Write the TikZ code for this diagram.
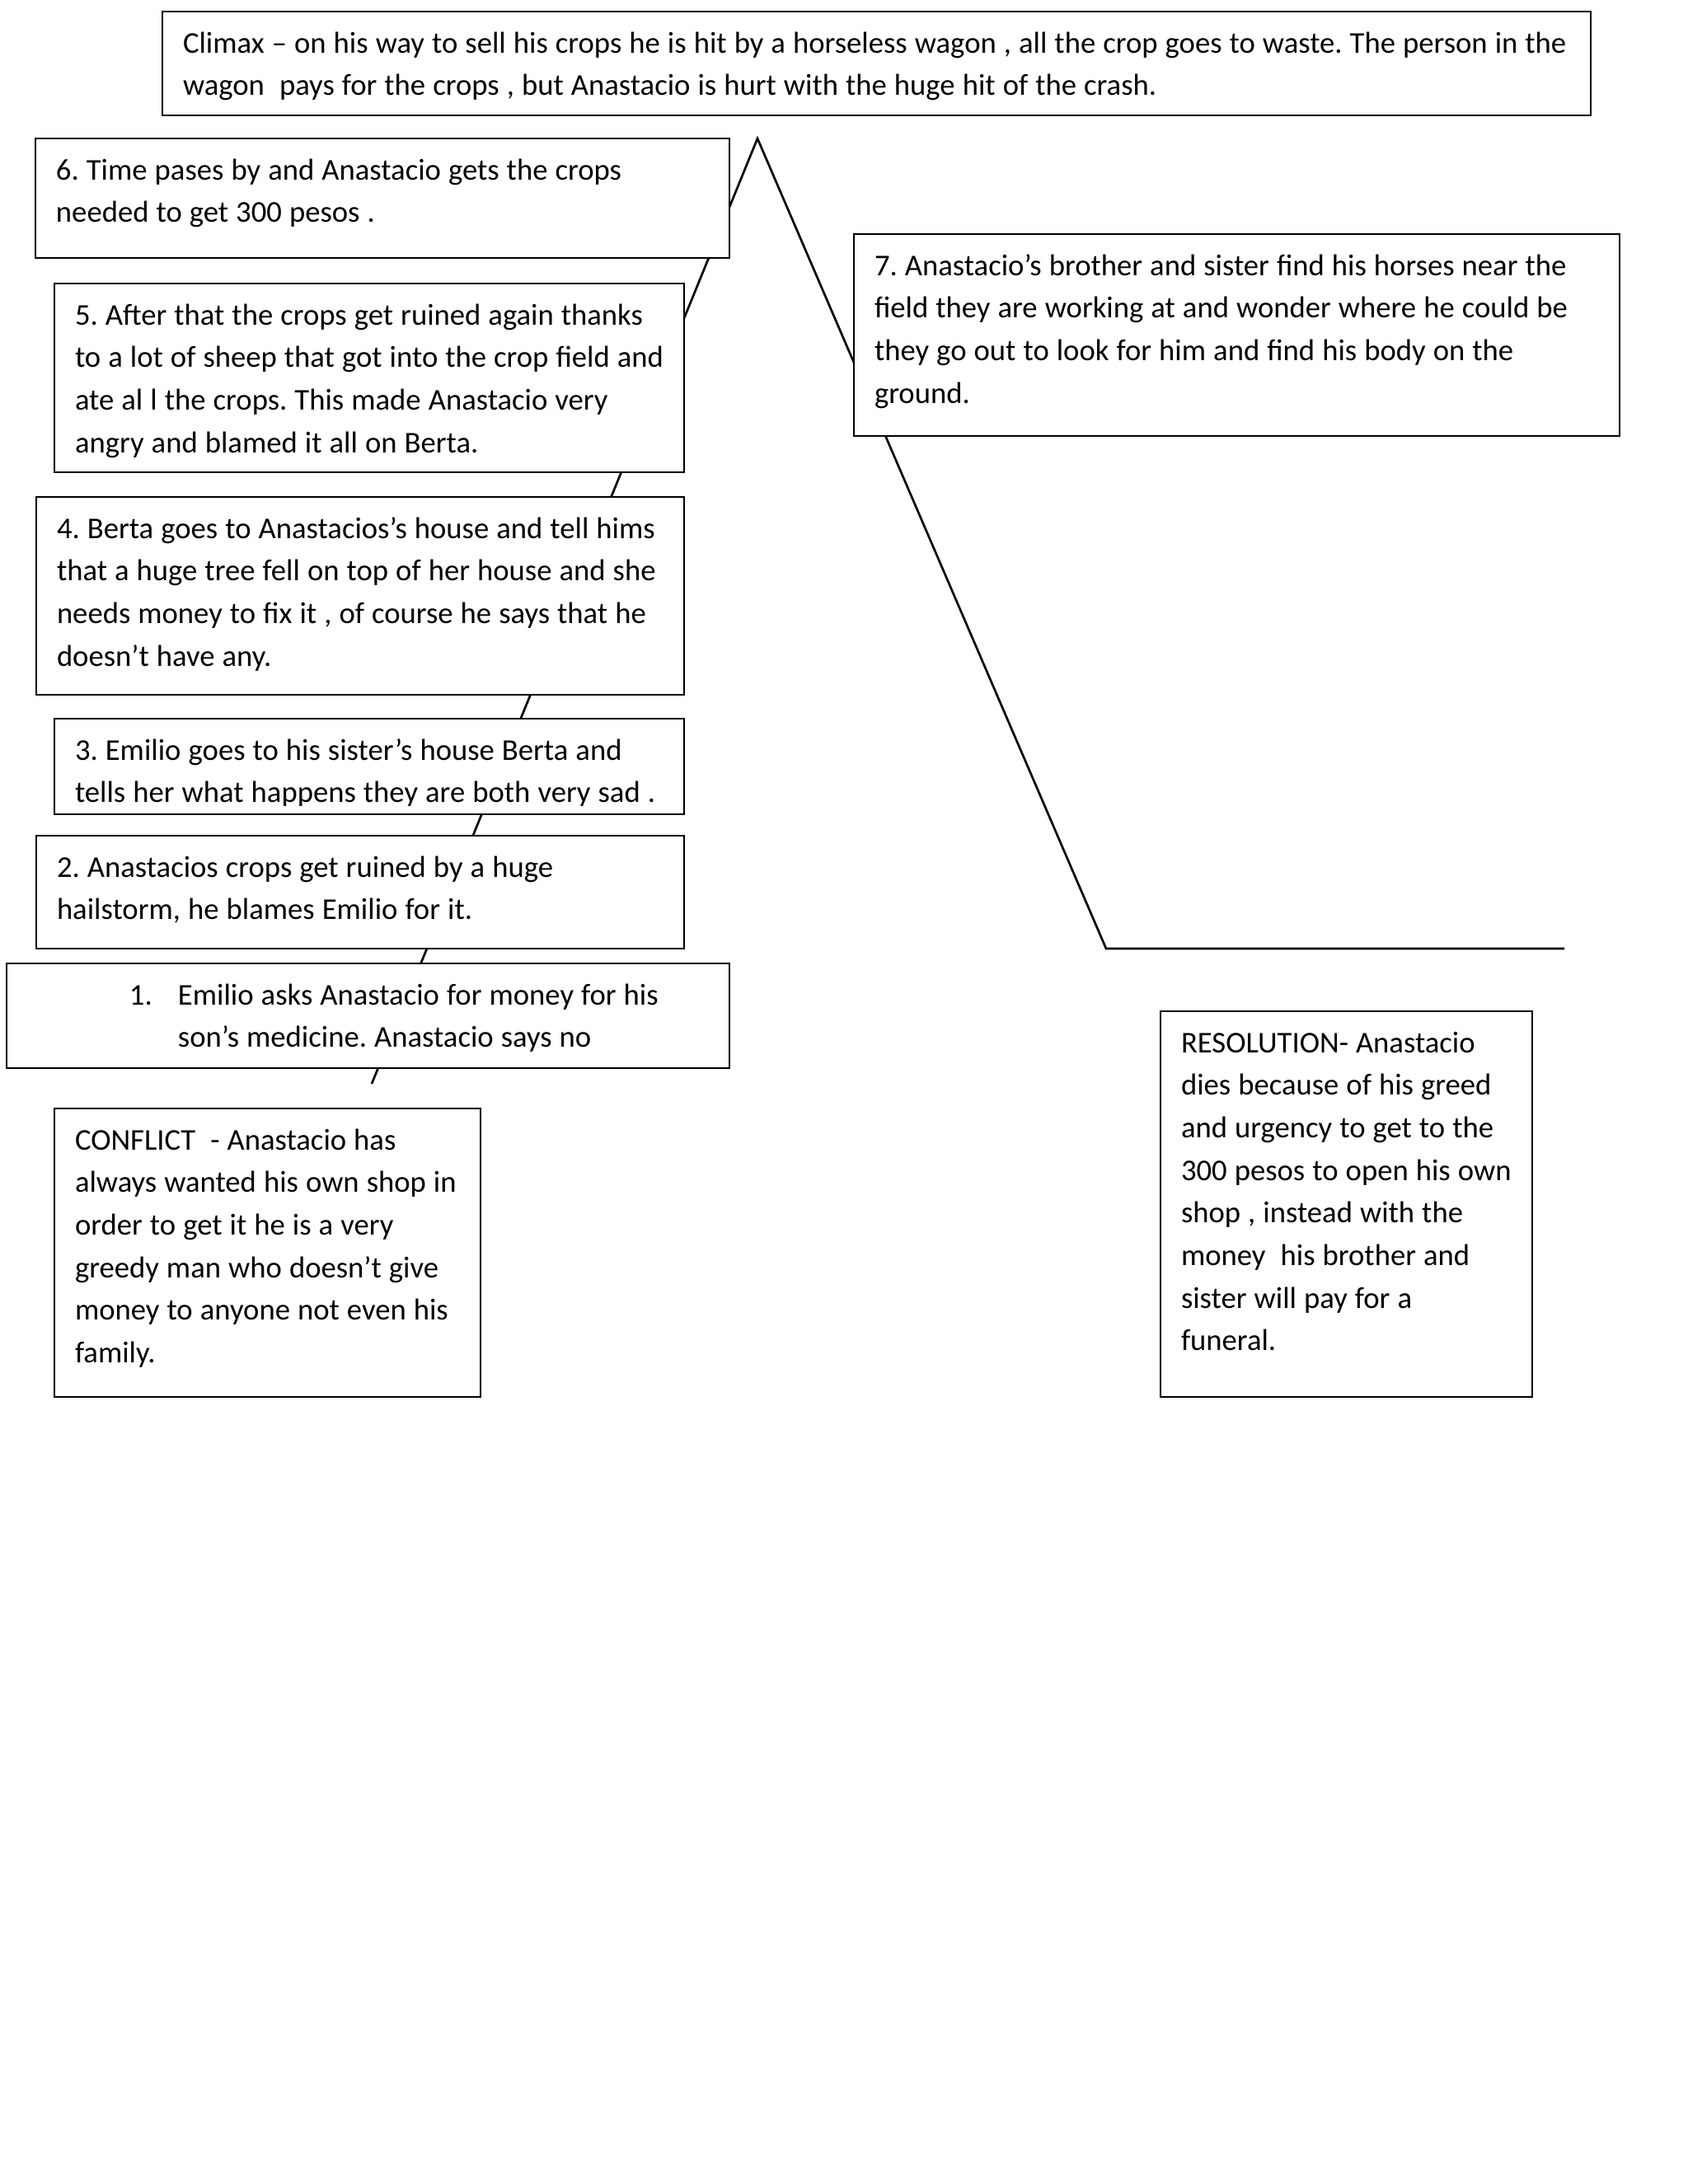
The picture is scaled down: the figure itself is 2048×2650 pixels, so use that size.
\documentclass[tikz,border=0pt]{standalone}
\usepackage{fontspec}
\setmainfont{Carlito}
\frenchspacing
\newcommand{\boxlines}[1]{\spaceskip=0.247em\xspaceskip=0.247em\relax\begin{tabular}[t]{@{}l@{}}#1\end{tabular}}
\tikzset{
  stage/.style 2 args={draw, line width=0.8pt, fill=white, anchor=north west,
    outer sep=0pt, inner xsep=7.5pt, inner ysep=3pt, align=left,
    text height=12pt, text width=#1, text depth=#2,
    font=\fontsize{11pt}{15.5pt}\selectfont},
  plotline/.style={line width=0.8pt}
}
\begin{document}
\begin{tikzpicture}[x=0.3pt,y=-0.3pt]
  \useasboundingbox (0,0) rectangle (2048,2650);
  \coordinate (start) at (451,1315);
  \coordinate (peak) at (919,168);
  \coordinate (fall) at (1342,1151);
  \coordinate (finish) at (1898,1151);
  \draw[plotline] (start) -- (peak) -- (fall) -- (finish);

  \node[stage={504.9pt}{19.8pt}] (climax) at (197,14)
    {\boxlines{Climax – on his way to sell his crops he is hit by a horseless wagon , all the crop goes to waste. The person in the\\
     wagon~ pays for the crops , but Anastacio is hurt with the huge hit of the crash.}};
  \node[stage={237.6pt}{25.5pt}] (s6) at (43,168)
    {\boxlines{6. Time pases by and Anastacio gets the crops\\
     needed to get 300 pesos .}};
  \node[stage={214.2pt}{50.7pt}] (s5) at (66,344)
    {\boxlines{5. After that the crops get ruined again thanks\\
     to a lot of sheep that got into the crop field and\\
     ate al l the crops. This made Anastacio very\\
     angry and blamed it all on Berta.}};
  \node[stage={220.8pt}{54pt}] (s4) at (44,603)
    {\boxlines{4. Berta goes to Anastacios’s house and tell hims\\
     that a huge tree fell on top of her house and she\\
     needs money to fix it , of course he says that he\\
     doesn’t have any.}};
  % text of box 3 is cut at the bottom
  \fill[white] (66,872) rectangle (830,988);
  \begin{scope}
    \clip (60,860) rectangle (840,977);
    \node[stage={214.2pt}{16.8pt}] (s3) at (66,872)
      {\boxlines{3. Emilio goes to his sister’s house Berta and\\
       tells her what happens they are both very sad .}};
  \end{scope}
  \draw[plotline] (s3.north west) -- (s3.south west) -- (s3.south east) -- (s3.north east);
  \node[stage={220.8pt}{23.1pt}] (s2) at (44,1014)
    {\boxlines{2. Anastacios crops get ruined by a huge\\
     hailstorm, he blames Emilio for it.}};
  \node[stage={248.1pt}{20.1pt}] (s1) at (8,1169)
    {\boxlines{\hspace*{37.2pt}\makebox[17.7pt][l]{1.}Emilio asks Anastacio for money for his\\
     \hspace*{54.9pt}son’s medicine. Anastacio says no}};
  \node[stage={140.1pt}{87pt}] (conflict) at (66,1345)
    {\boxlines{CONFLICT~ - Anastacio has\\
     always wanted his own shop in\\
     order to get it he is a very\\
     greedy man who doesn’t give\\
     money to anyone not even his\\
     family.}};
  \node[stage={263.7pt}{55.5pt}] (s7) at (1036,284)
    {\boxlines{7. Anastacio’s brother and sister find his horses near the\\
     field they are working at and wonder where he could be\\
     they go out to look for him and find his body on the\\
     ground.}};
  \node[stage={120.3pt}{122.4pt}] (resolution) at (1408,1227)
    {\boxlines{RESOLUTION- Anastacio\\
     dies because of his greed\\
     and urgency to get to the\\
     300 pesos to open his own\\
     shop , instead with the\\
     money~ his brother and\\
     sister will pay for a\\
     funeral.}};
\end{tikzpicture}
\end{document}
